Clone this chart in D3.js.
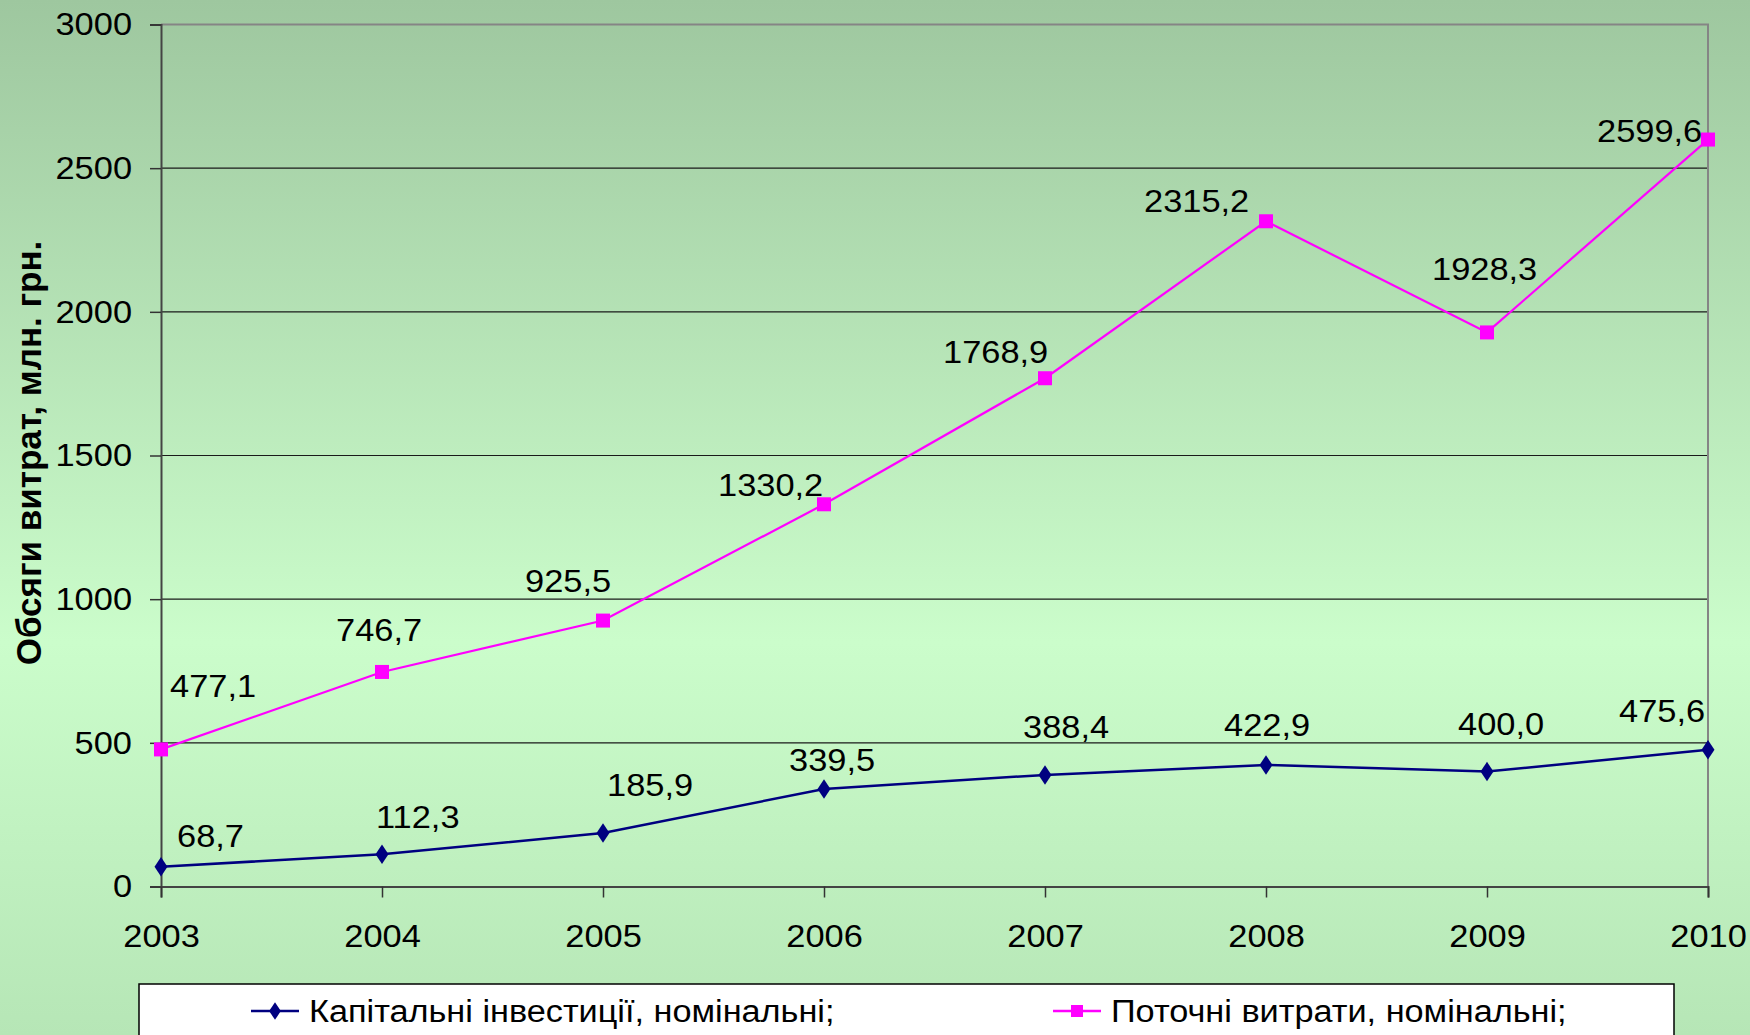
<!DOCTYPE html>
<html>
<head>
<meta charset="utf-8">
<script src="https://cdn.jsdelivr.net/npm/d3@7"></script>
<style>
  body { margin: 0; padding: 0; }
  svg { display: block; font-family: Arial, "Liberation Sans", sans-serif; }
</style>
</head>
<body>
<div id="chart"></div>
<script>
// data
var years = [2003, 2004, 2005, 2006, 2007, 2008, 2009, 2010];
var capital = [68.7, 112.3, 185.9, 339.5, 388.4, 422.9, 400.0, 475.6];
var current = [477.1, 746.7, 925.5, 1330.2, 1768.9, 2315.2, 1928.3, 2599.6];
var yTicks = [0, 500, 1000, 1500, 2000, 2500, 3000];
var seriesNames = ["Капітальні інвестиції, номінальні;", "Поточні витрати, номінальні;"];
var yTitle = "Обсяги витрат, млн. грн.";

// hand placed label offsets (dx, dy from the point), like in the original chart
var capitalLabelOff = [[16, -20], [-6, -26], [4, -37], [-35, -18], [-22, -37], [-42, -29], [-29, -37], [-89, -28]];
var currentLabelOff = [[9, -52], [-46, -31], [-78, -29], [-106, -8], [-102, -15], [-122, -9], [-55, -52], [-111, 2]];

function drawChart() {
    var w = 1750, h = 1035;
    var pLeft = 161, pRight = 1708, pTop = 24.5, pBottom = 886.5;
    var stretchK = 1.075; // the original text is a bit wider than Arial

    var svg = d3.select("#chart").append("svg")
        .attr("width", w)
        .attr("height", h);

    function stretch(sel) {
        sel.each(function () {
            var L = this.getComputedTextLength();
            d3.select(this)
                .attr("textLength", L * stretchK)
                .attr("lengthAdjust", "spacingAndGlyphs");
        });
    }

    // background gradient
    var defs = svg.append("defs");
    var grad = defs.append("linearGradient")
        .attr("id", "bg")
        .attr("x1", 0).attr("y1", 0).attr("x2", 0).attr("y2", 1);
    grad.append("stop").attr("offset", "0%").attr("stop-color", "#9ec79f");
    grad.append("stop").attr("offset", "62%").attr("stop-color", "#cbfdcb");
    grad.append("stop").attr("offset", "100%").attr("stop-color", "#b6e6b6");

    svg.append("rect")
        .attr("width", w).attr("height", h)
        .attr("fill", "url(#bg)");

    var x = d3.scaleLinear().domain([2003, 2010]).range([pLeft, pRight]);
    var y = d3.scaleLinear().domain([0, 3000]).range([pBottom, pTop]);

    // gridlines
    svg.append("g").selectAll("line")
        .data(yTicks.filter(function (d) { return d > 0 && d < 3000; }))
        .enter().append("line")
        .attr("x1", pLeft).attr("x2", pRight)
        .attr("y1", function (d) { return y(d); })
        .attr("y2", function (d) { return y(d); })
        .attr("stroke", "#1a1a1a")
        .attr("stroke-width", 1.2);

    // top + right border of plot area
    svg.append("path")
        .attr("d", "M" + pLeft + "," + y(3000) + "H" + x(2010) + "V" + y(0))
        .attr("fill", "none")
        .attr("stroke", "#858585")
        .attr("stroke-width", 2);

    // y axis
    var yAxis = svg.append("g")
        .attr("transform", "translate(" + pLeft + ",0)")
        .call(d3.axisLeft(y).tickValues(yTicks).tickSize(11).tickPadding(18).tickFormat(d3.format("d")));
    yAxis.select(".domain").attr("stroke", "#444").attr("stroke-width", 2);
    yAxis.selectAll(".tick line").attr("stroke", "#333").attr("stroke-width", 1.5);
    yAxis.selectAll("text")
        .attr("font-size", 32)
        .attr("fill", "#000")
        .attr("font-family", "Arial, 'Liberation Sans', sans-serif")
        .call(stretch);

    // x axis
    var xAxis = svg.append("g")
        .attr("transform", "translate(0," + pBottom + ")")
        .call(d3.axisBottom(x).tickValues(years).tickSize(11).tickPadding(27).tickFormat(d3.format("d")));
    xAxis.select(".domain").attr("stroke", "#444").attr("stroke-width", 2);
    xAxis.selectAll(".tick line").attr("stroke", "#333").attr("stroke-width", 1.5);
    xAxis.selectAll("text")
        .attr("font-size", 32)
        .attr("fill", "#000")
        .attr("font-family", "Arial, 'Liberation Sans', sans-serif")
        .call(stretch);

    // y title
    svg.append("text")
        .attr("transform", "translate(41,453) rotate(-90)")
        .attr("text-anchor", "middle")
        .attr("font-size", 35)
        .attr("font-weight", "bold")
        .attr("fill", "#000")
        .text(yTitle);

    var line = d3.line()
        .x(function (d, i) { return x(years[i]); })
        .y(function (d) { return y(d); });

    var fmt = function (v) { return d3.format(".1f")(v).replace(".", ","); };

    // capital series
    svg.append("path")
        .datum(capital)
        .attr("d", line)
        .attr("fill", "none")
        .attr("stroke", "#000080")
        .attr("stroke-width", 2.5);

    svg.append("g").selectAll("path")
        .data(capital)
        .enter().append("path")
        .attr("d", d3.symbol().type(d3.symbolDiamond).size(110))
        .attr("transform", function (d, i) { return "translate(" + x(years[i]) + "," + y(d) + ") scale(1.15,1)"; })
        .attr("fill", "#000080");

    // current series
    svg.append("path")
        .datum(current)
        .attr("d", line)
        .attr("fill", "none")
        .attr("stroke", "#ff00ff")
        .attr("stroke-width", 2.2);

    svg.append("g").selectAll("rect")
        .data(current)
        .enter().append("rect")
        .attr("x", function (d, i) { return x(years[i]) - 7; })
        .attr("y", function (d) { return y(d) - 7; })
        .attr("width", 14).attr("height", 14)
        .attr("fill", "#ff00ff");

    // data labels
    svg.append("g").selectAll("text")
        .data(capital)
        .enter().append("text")
        .attr("x", function (d, i) { return x(years[i]) + capitalLabelOff[i][0]; })
        .attr("y", function (d, i) { return y(d) + capitalLabelOff[i][1]; })
        .attr("font-size", 32)
        .attr("fill", "#000")
        .text(fmt)
        .call(stretch);

    svg.append("g").selectAll("text")
        .data(current)
        .enter().append("text")
        .attr("x", function (d, i) { return x(years[i]) + currentLabelOff[i][0]; })
        .attr("y", function (d, i) { return y(d) + currentLabelOff[i][1]; })
        .attr("font-size", 32)
        .attr("fill", "#000")
        .text(fmt)
        .call(stretch);

    // legend
    var legend = svg.append("g");
    legend.append("rect")
        .attr("x", 139).attr("y", 984)
        .attr("width", 1535).attr("height", 80)
        .attr("fill", "#fff")
        .attr("stroke", "#000")
        .attr("stroke-width", 1.5);

    var legendItems = [
        {name: seriesNames[0], color: "#000080", x: 251, type: "diamond"},
        {name: seriesNames[1], color: "#ff00ff", x: 1053, type: "square"}
    ];

    legendItems.forEach(function (it) {
        legend.append("line")
            .attr("x1", it.x).attr("x2", it.x + 48)
            .attr("y1", 1011).attr("y2", 1011)
            .attr("stroke", it.color)
            .attr("stroke-width", 2.5);
        if (it.type === "diamond") {
            legend.append("path")
                .attr("d", d3.symbol().type(d3.symbolDiamond).size(90))
                .attr("transform", "translate(" + (it.x + 24) + ",1011) scale(1.15,1)")
                .attr("fill", it.color);
        } else {
            legend.append("rect")
                .attr("x", it.x + 18).attr("y", 1005)
                .attr("width", 12).attr("height", 12)
                .attr("fill", it.color);
        }
        legend.append("text")
            .attr("x", it.x + 58)
            .attr("y", 1022)
            .attr("font-size", 31)
            .attr("fill", "#000")
            .text(it.name)
            .each(function () {
                d3.select(this)
                    .attr("textLength", this.getComputedTextLength() * 1.105)
                    .attr("lengthAdjust", "spacingAndGlyphs");
            });
    });
}

drawChart();
</script>
</body>
</html>
